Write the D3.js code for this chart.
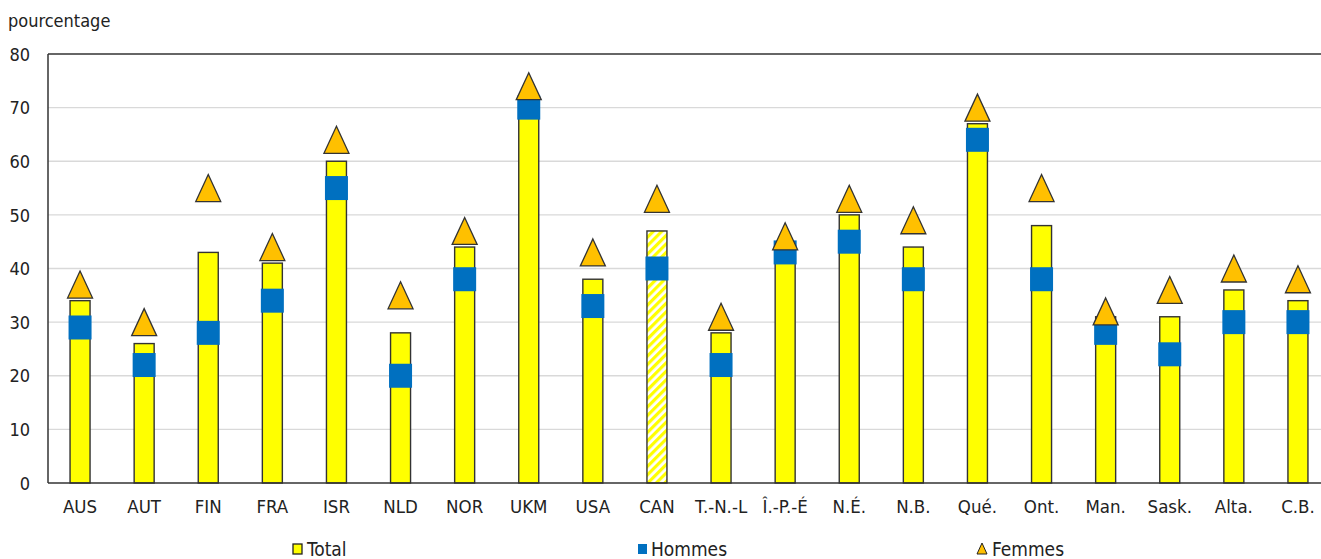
<!DOCTYPE html>
<html>
<head>
<meta charset="utf-8">
<script src="https://cdn.jsdelivr.net/npm/d3@7"></script>
<style>
  html, body { margin: 0; padding: 0; background: #fff; }
  svg { display: block; }
  text { font-family: "Liberation Sans Narrow", "DejaVu Sans Condensed", "Roboto Condensed", Arial, sans-serif; fill: #222; }
</style>
</head>
<body>
<svg id="chart" width="1321" height="559"></svg>
<script>
const categories = ["AUS","AUT","FIN","FRA","ISR","NLD","NOR","UKM","USA","CAN","T.-N.-L","Î.-P.-É","N.É.","N.B.","Qué.","Ont.","Man.","Sask.","Alta.","C.B."];
const total   = [34, 26, 43, 41, 60, 28, 44, 70, 38, 47, 28, 44, 50, 44, 67, 48, 31, 31, 36, 34];
const hommes  = [29, 22, 28, 34, 55, 20, 38, 70, 33, 40, 22, 43, 45, 38, 64, 38, 28, 24, 30, 30];
const femmes  = [37, 30, 55, 44, 64, 35, 47, 74, 43, 53, 31, 46, 53, 49, 70, 55, 32, 36, 40, 38];
const hatched = ["CAN"];
const yTicks  = [0, 10, 20, 30, 40, 50, 60, 70, 80];
const yLabel  = "pourcentage";
const legendLabels = ["Total", "Hommes", "Femmes"];

const svg = d3.select("#chart");
const margin = { left: 48, top: 54, bottom: 483, right: 1330 };

const x = d3.scaleBand().domain(categories).range([margin.left, margin.right]).padding(0);
const y = d3.scaleLinear().domain([0, 80]).range([margin.bottom, margin.top]);

// hatch pattern
const defs = svg.append("defs");
const pat = defs.append("pattern")
  .attr("id", "hatch").attr("patternUnits", "userSpaceOnUse")
  .attr("width", 6).attr("height", 6)
  .attr("patternTransform", "rotate(45)");
pat.append("rect").attr("width", 6).attr("height", 6).attr("fill", "#ffffff");
pat.append("rect").attr("width", 3.2).attr("height", 6).attr("fill", "#ffff00");

// gridlines
svg.append("g").selectAll("line").data(yTicks.filter(d => d > 0 && d < 80)).join("line")
  .attr("x1", margin.left).attr("x2", margin.right)
  .attr("y1", d => y(d)).attr("y2", d => y(d))
  .attr("stroke", "#d9d9d9").attr("stroke-width", 1.3);

// y axis labels
const yAxis = d3.axisLeft(y).tickValues(yTicks).tickSize(0).tickPadding(18);
const gy = svg.append("g").attr("transform", `translate(${margin.left},0)`).call(yAxis);
gy.select(".domain").remove();
gy.selectAll("text").style("font-size", "18px").attr("fill", "#222").attr("dy", "0.34em");

// frame
svg.append("line").attr("x1", margin.left).attr("x2", margin.right).attr("y1", margin.top).attr("y2", margin.top)
  .attr("stroke", "#333").attr("stroke-width", 1.5);
svg.append("line").attr("x1", margin.left).attr("x2", margin.left).attr("y1", margin.top).attr("y2", margin.bottom)
  .attr("stroke", "#333").attr("stroke-width", 1.5);

// bars
const bw = 20;
svg.append("g").selectAll("rect").data(categories).join("rect")
  .attr("x", d => x(d) + x.bandwidth() / 2 - bw / 2)
  .attr("y", (d, i) => y(total[i]))
  .attr("width", bw)
  .attr("height", (d, i) => y(0) - y(total[i]))
  .attr("fill", d => hatched.includes(d) ? "url(#hatch)" : "#ffff00")
  .attr("stroke", "#333").attr("stroke-width", 1.4);

// x axis
const xAxis = d3.axisBottom(x).tickSize(0).tickPadding(17);
const gx = svg.append("g").attr("transform", `translate(0,${margin.bottom})`).call(xAxis);
gx.select(".domain").remove();
gx.selectAll("text").style("font-size", "18.5px").attr("fill", "#222");
svg.append("line").attr("x1", margin.left).attr("x2", margin.right).attr("y1", margin.bottom).attr("y2", margin.bottom)
  .attr("stroke", "#333").attr("stroke-width", 1.5);

// hommes markers
const sw = 23, sh = 24;
svg.append("g").selectAll("rect").data(categories).join("rect")
  .attr("x", d => x(d) + x.bandwidth() / 2 - sw / 2)
  .attr("y", (d, i) => y(hommes[i]) - sh / 2)
  .attr("width", sw).attr("height", sh)
  .attr("fill", "#0070c0");

// femmes markers
const tw = 25, th = 27;
svg.append("g").selectAll("path").data(categories).join("path")
  .attr("d", (d, i) => {
    const cx = x(d) + x.bandwidth() / 2, cy = y(femmes[i]);
    return `M${cx},${cy - th / 2}L${cx + tw / 2},${cy + th / 2}L${cx - tw / 2},${cy + th / 2}Z`;
  })
  .attr("fill", "#ffc000").attr("stroke", "#333").attr("stroke-width", 1.3);

// y label
svg.append("text").attr("x", 8).attr("y", 27).style("font-size", "18px").text(yLabel);

// legend
const lg = svg.append("g");
const ly = 549;
lg.append("rect").attr("x", 293).attr("y", ly - 5).attr("width", 9).attr("height", 10)
  .attr("fill", "#ffff00").attr("stroke", "#222").attr("stroke-width", 1.3);
lg.append("text").attr("x", 307).attr("y", ly + 7).style("font-size", "19px").text(legendLabels[0]);
lg.append("rect").attr("x", 638).attr("y", ly - 5).attr("width", 9).attr("height", 10).attr("fill", "#0070c0");
lg.append("text").attr("x", 651).attr("y", ly + 7).style("font-size", "19px").text(legendLabels[1]);
lg.append("path").attr("d", `M982,${ly - 6}L987,${ly + 5}L977,${ly + 5}Z`)
  .attr("fill", "#ffc000").attr("stroke", "#222").attr("stroke-width", 1);
lg.append("text").attr("x", 992).attr("y", ly + 7).style("font-size", "19px").text(legendLabels[2]);
</script>
</body>
</html>
